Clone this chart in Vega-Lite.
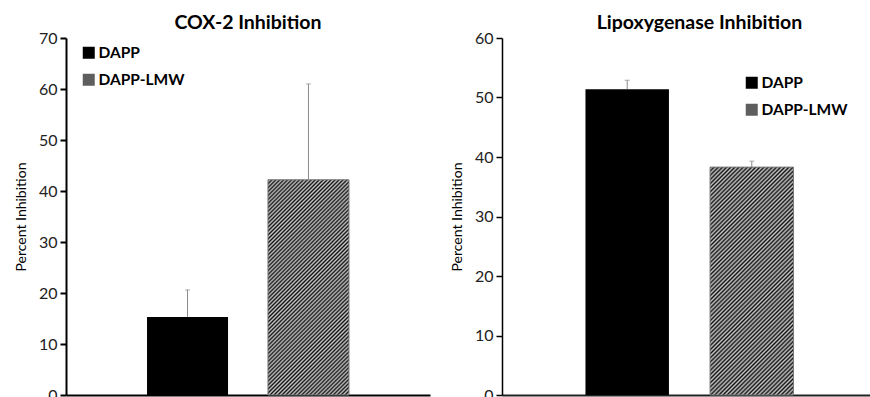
{
  "$schema": "https://vega.github.io/schema/vega-lite/v6.json",
  "padding": {"left": 14, "top": 12, "right": 0, "bottom": 0},
  "background": "white",
  "params": [
    {"name": "hatch", "value": [
      {"offset":0,"color":"#111"},{"offset":0.0067,"color":"#c8c8c8"},{"offset":0.0133,"color":"#111"},{"offset":0.02,"color":"#c8c8c8"},{"offset":0.0267,"color":"#111"},{"offset":0.0333,"color":"#c8c8c8"},{"offset":0.04,"color":"#111"},{"offset":0.0467,"color":"#c8c8c8"},{"offset":0.0533,"color":"#111"},{"offset":0.06,"color":"#c8c8c8"},{"offset":0.0667,"color":"#111"},{"offset":0.0733,"color":"#c8c8c8"},{"offset":0.08,"color":"#111"},{"offset":0.0867,"color":"#c8c8c8"},{"offset":0.0933,"color":"#111"},{"offset":0.1,"color":"#c8c8c8"},{"offset":0.1067,"color":"#111"},{"offset":0.1133,"color":"#c8c8c8"},{"offset":0.12,"color":"#111"},{"offset":0.1267,"color":"#c8c8c8"},{"offset":0.1333,"color":"#111"},{"offset":0.14,"color":"#c8c8c8"},{"offset":0.1467,"color":"#111"},{"offset":0.1533,"color":"#c8c8c8"},{"offset":0.16,"color":"#111"},{"offset":0.1667,"color":"#c8c8c8"},{"offset":0.1733,"color":"#111"},{"offset":0.18,"color":"#c8c8c8"},{"offset":0.1867,"color":"#111"},{"offset":0.1933,"color":"#c8c8c8"},
      {"offset":0.2,"color":"#111"},{"offset":0.2067,"color":"#c8c8c8"},{"offset":0.2133,"color":"#111"},{"offset":0.22,"color":"#c8c8c8"},{"offset":0.2267,"color":"#111"},{"offset":0.2333,"color":"#c8c8c8"},{"offset":0.24,"color":"#111"},{"offset":0.2467,"color":"#c8c8c8"},{"offset":0.2533,"color":"#111"},{"offset":0.26,"color":"#c8c8c8"},{"offset":0.2667,"color":"#111"},{"offset":0.2733,"color":"#c8c8c8"},{"offset":0.28,"color":"#111"},{"offset":0.2867,"color":"#c8c8c8"},{"offset":0.2933,"color":"#111"},{"offset":0.3,"color":"#c8c8c8"},{"offset":0.3067,"color":"#111"},{"offset":0.3133,"color":"#c8c8c8"},{"offset":0.32,"color":"#111"},{"offset":0.3267,"color":"#c8c8c8"},{"offset":0.3333,"color":"#111"},{"offset":0.34,"color":"#c8c8c8"},{"offset":0.3467,"color":"#111"},{"offset":0.3533,"color":"#c8c8c8"},{"offset":0.36,"color":"#111"},{"offset":0.3667,"color":"#c8c8c8"},{"offset":0.3733,"color":"#111"},{"offset":0.38,"color":"#c8c8c8"},{"offset":0.3867,"color":"#111"},{"offset":0.3933,"color":"#c8c8c8"},
      {"offset":0.4,"color":"#111"},{"offset":0.4067,"color":"#c8c8c8"},{"offset":0.4133,"color":"#111"},{"offset":0.42,"color":"#c8c8c8"},{"offset":0.4267,"color":"#111"},{"offset":0.4333,"color":"#c8c8c8"},{"offset":0.44,"color":"#111"},{"offset":0.4467,"color":"#c8c8c8"},{"offset":0.4533,"color":"#111"},{"offset":0.46,"color":"#c8c8c8"},{"offset":0.4667,"color":"#111"},{"offset":0.4733,"color":"#c8c8c8"},{"offset":0.48,"color":"#111"},{"offset":0.4867,"color":"#c8c8c8"},{"offset":0.4933,"color":"#111"},{"offset":0.5,"color":"#c8c8c8"},{"offset":0.5067,"color":"#111"},{"offset":0.5133,"color":"#c8c8c8"},{"offset":0.52,"color":"#111"},{"offset":0.5267,"color":"#c8c8c8"},{"offset":0.5333,"color":"#111"},{"offset":0.54,"color":"#c8c8c8"},{"offset":0.5467,"color":"#111"},{"offset":0.5533,"color":"#c8c8c8"},{"offset":0.56,"color":"#111"},{"offset":0.5667,"color":"#c8c8c8"},{"offset":0.5733,"color":"#111"},{"offset":0.58,"color":"#c8c8c8"},{"offset":0.5867,"color":"#111"},{"offset":0.5933,"color":"#c8c8c8"},
      {"offset":0.6,"color":"#111"},{"offset":0.6067,"color":"#c8c8c8"},{"offset":0.6133,"color":"#111"},{"offset":0.62,"color":"#c8c8c8"},{"offset":0.6267,"color":"#111"},{"offset":0.6333,"color":"#c8c8c8"},{"offset":0.64,"color":"#111"},{"offset":0.6467,"color":"#c8c8c8"},{"offset":0.6533,"color":"#111"},{"offset":0.66,"color":"#c8c8c8"},{"offset":0.6667,"color":"#111"},{"offset":0.6733,"color":"#c8c8c8"},{"offset":0.68,"color":"#111"},{"offset":0.6867,"color":"#c8c8c8"},{"offset":0.6933,"color":"#111"},{"offset":0.7,"color":"#c8c8c8"},{"offset":0.7067,"color":"#111"},{"offset":0.7133,"color":"#c8c8c8"},{"offset":0.72,"color":"#111"},{"offset":0.7267,"color":"#c8c8c8"},{"offset":0.7333,"color":"#111"},{"offset":0.74,"color":"#c8c8c8"},{"offset":0.7467,"color":"#111"},{"offset":0.7533,"color":"#c8c8c8"},{"offset":0.76,"color":"#111"},{"offset":0.7667,"color":"#c8c8c8"},{"offset":0.7733,"color":"#111"},{"offset":0.78,"color":"#c8c8c8"},{"offset":0.7867,"color":"#111"},{"offset":0.7933,"color":"#c8c8c8"},
      {"offset":0.8,"color":"#111"},{"offset":0.8067,"color":"#c8c8c8"},{"offset":0.8133,"color":"#111"},{"offset":0.82,"color":"#c8c8c8"},{"offset":0.8267,"color":"#111"},{"offset":0.8333,"color":"#c8c8c8"},{"offset":0.84,"color":"#111"},{"offset":0.8467,"color":"#c8c8c8"},{"offset":0.8533,"color":"#111"},{"offset":0.86,"color":"#c8c8c8"},{"offset":0.8667,"color":"#111"},{"offset":0.8733,"color":"#c8c8c8"},{"offset":0.88,"color":"#111"},{"offset":0.8867,"color":"#c8c8c8"},{"offset":0.8933,"color":"#111"},{"offset":0.9,"color":"#c8c8c8"},{"offset":0.9067,"color":"#111"},{"offset":0.9133,"color":"#c8c8c8"},{"offset":0.92,"color":"#111"},{"offset":0.9267,"color":"#c8c8c8"},{"offset":0.9333,"color":"#111"},{"offset":0.94,"color":"#c8c8c8"},{"offset":0.9467,"color":"#111"},{"offset":0.9533,"color":"#c8c8c8"},{"offset":0.96,"color":"#111"},{"offset":0.9667,"color":"#c8c8c8"},{"offset":0.9733,"color":"#111"},{"offset":0.98,"color":"#c8c8c8"},{"offset":0.9867,"color":"#111"},{"offset":0.9933,"color":"#c8c8c8"},
      {"offset":1,"color":"#111"}
    ]}
  ],
  "datasets": {
    "cox": [
      {"series": "DAPP", "value": 15.3, "upper": 20.6},
      {"series": "DAPP-LMW", "value": 42.2, "upper": 61.0}
    ],
    "lox": [
      {"series": "DAPP", "value": 51.4, "upper": 52.9},
      {"series": "DAPP-LMW", "value": 38.3, "upper": 39.3}
    ]
  },
  "spacing": 20,
  "resolve": {"scale": {"fill": "independent", "y": "independent", "x": "independent"}, "legend": {"fill": "independent"}},
  "hconcat": [
    {
      "title": {"text": "COX-2 Inhibition"},
      "width": 364,
      "height": 357,
      "data": {"name": "cox"},
      "encoding": {
        "x": {"field": "series", "type": "nominal", "scale": {"domain": ["DAPP", "DAPP-LMW"], "paddingInner": 0.33, "paddingOuter": 0.67}, "axis": {"labels": false, "ticks": false, "title": null, "domainWidth": 2}},
        "y": {"field": "value", "type": "quantitative", "scale": {"domain": [0, 70], "nice": false}, "axis": {"title": "Percent Inhibition", "values": [0, 10, 20, 30, 40, 50, 60, 70]}}
      },
      "layer": [
        {
          "transform": [{"filter": "datum.series === 'DAPP'"}],
          "mark": {"type": "bar"},
          "encoding": {
            "fill": {"field": "series", "type": "nominal", "scale": {"domain": ["DAPP", "DAPP-LMW"], "range": ["#000000", "#5e5e5e"]},
              "legend": {"orient": "none", "legendX": 15, "legendY": 7, "title": null}}
          }
        },
        {
          "transform": [{"filter": "datum.series === 'DAPP-LMW'"}],
          "mark": {"type": "bar", "fill": {"expr": "{gradient: 'linear', x1: 0, y1: 0, x2: 0.454, y2: 1.206, stops: hatch}"}, "stroke": "#777777", "strokeWidth": 1}
        },
        {
          "mark": {"type": "rule", "color": "#8a8a8a", "strokeWidth": 1},
          "encoding": {"y2": {"field": "upper"}}
        },
        {
          "mark": {"type": "tick", "color": "#8a8a8a", "size": 5, "thickness": 1},
          "encoding": {"y": {"field": "upper", "type": "quantitative"}}
        }
      ]
    },
    {
      "title": {"text": "Lipoxygenase Inhibition", "dx": 10},
      "width": 375,
      "height": 357,
      "data": {"name": "lox"},
      "encoding": {
        "x": {"field": "series", "type": "nominal", "scale": {"domain": ["DAPP", "DAPP-LMW"], "paddingInner": 0.33, "paddingOuter": 0.67}, "axis": {"labels": false, "ticks": false, "title": null, "domainWidth": 2, "domainColor": "#222"}},
        "y": {"field": "value", "type": "quantitative", "scale": {"domain": [0, 60], "nice": false}, "axis": {"title": "Percent Inhibition", "values": [0, 10, 20, 30, 40, 50, 60], "domainWidth": 1.5, "tickWidth": 1.5}}
      },
      "layer": [
        {
          "transform": [{"filter": "datum.series === 'DAPP'"}],
          "mark": {"type": "bar"},
          "encoding": {
            "fill": {"field": "series", "type": "nominal", "scale": {"domain": ["DAPP", "DAPP-LMW"], "range": ["#000000", "#5e5e5e"]},
              "legend": {"orient": "none", "legendX": 242, "legendY": 37, "title": null}}
          }
        },
        {
          "transform": [{"filter": "datum.series === 'DAPP-LMW'"}],
          "mark": {"type": "bar", "fill": {"expr": "{gradient: 'linear', x1: 0, y1: 0, x2: 0.441, y2: 1.205, stops: hatch}"}, "stroke": "#777777", "strokeWidth": 1}
        },
        {
          "mark": {"type": "rule", "color": "#8a8a8a", "strokeWidth": 1},
          "encoding": {"y2": {"field": "upper"}}
        },
        {
          "mark": {"type": "tick", "color": "#8a8a8a", "size": 5, "thickness": 1},
          "encoding": {"y": {"field": "upper", "type": "quantitative"}}
        }
      ]
    }
  ],
  "config": {
    "view": {"stroke": null},
    "font": "Lato",
    "title": {"font": "Lato", "fontSize": 19.5, "fontWeight": "bold", "color": "#000", "offset": -3, "anchor": "middle"},
    "axis": {"grid": false, "domainColor": "#000", "domainWidth": 2, "tickColor": "#000", "tickWidth": 2, "tickSize": 6, "labelFont": "Lato", "labelFontSize": 16, "labelColor": "#222", "labelPadding": 3, "titleFont": "Lato", "titleFontSize": 14, "titleFontWeight": "normal", "titleColor": "#000", "titlePadding": 10},
    "legend": {"padding": 0, "labelFont": "Lato", "labelFontSize": 15.5, "labelFontWeight": "bold", "labelColor": "#000", "symbolType": "square", "symbolSize": 144, "symbolStrokeWidth": 0, "rowPadding": 10, "labelOffset": 2}
  }
}
